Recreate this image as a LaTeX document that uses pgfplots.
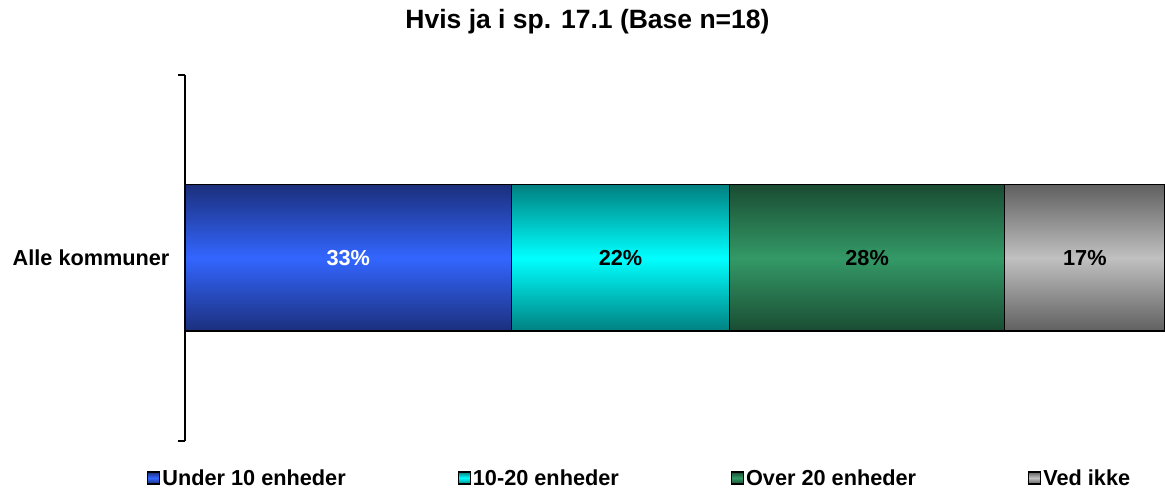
\documentclass[border=0pt]{standalone}
\usepackage{fontspec}
\setmainfont{Liberation Sans}
\usepackage{pgfplots}
\pgfplotsset{compat=1.18}
\definecolor{bluel}{HTML}{3366FF}\definecolor{blued}{HTML}{1B2F7C}
\definecolor{cyanl}{HTML}{00FFFF}\definecolor{cyand}{HTML}{008080}
\definecolor{greenl}{HTML}{339966}\definecolor{greend}{HTML}{1A4C33}
\definecolor{grayl}{HTML}{C0C0C0}\definecolor{grayd}{HTML}{606060}
\begin{document}
\begin{tikzpicture}
\path[use as bounding box] (0,0) rectangle (1165pt,492pt);
\node[font=\fontsize{26.5pt}{30pt}\selectfont\bfseries] at (587.5pt,470pt) {Hvis ja i sp. 17.1 (Base n=18)};
\begin{axis}[
  at={(185pt,51pt)}, anchor=south west,
  scale only axis, width=980pt, height=366pt,
  xbar stacked, bar width=0.4,
  xmin=0, xmax=100, ymin=-0.5, ymax=0.5,
  axis x line=none,
  axis y line*=left,
  axis line style={line width=1.4pt, -},
  ytick={0}, yticklabels={Alle kommuner},
  minor ytick={-0.5,0.5},
  major tick length=0pt, minor tick length=7pt,
  tick align=outside,
  minor tick style={line width=1.4pt, black},
  yticklabel style={font=\fontsize{21.7pt}{24pt}\selectfont\bfseries, xshift=-12pt},
  every axis plot/.append style={draw=black, line width=1.4pt},
  nodes near coords,
  point meta=explicit symbolic,
  every node near coord/.append style={anchor=center, font=\fontsize{21.7pt}{24pt}\selectfont\bfseries},
  legend columns=4,
  legend style={at={(0.464,-0.101)}, anchor=center, draw=none, fill=none,
    font=\fontsize{21.7pt}{24pt}\selectfont\bfseries,
    /tikz/every even column/.append style={column sep=110pt},
    inner sep=0pt},
  legend image code/.code={\draw[#1, draw=black, line width=1.2pt] (0pt,-6pt) rectangle (12pt,6pt);},
]
\addplot[top color=blued, bottom color=blued, middle color=bluel,
  every node near coord/.append style={text=white}]
  coordinates {(33.33,0) [33\%]};
\addplot[top color=cyand, bottom color=cyand, middle color=cyanl,
  every node near coord/.append style={text=black}]
  coordinates {(22.22,0) [22\%]};
\addplot[top color=greend, bottom color=greend, middle color=greenl,
  every node near coord/.append style={text=black}]
  coordinates {(28.1,0) [28\%]};
\addplot[top color=grayd, bottom color=grayd, middle color=grayl,
  every node near coord/.append style={text=black}]
  coordinates {(16.35,0) [17\%]};
\legend{Under 10 enheder,10-20 enheder,Over 20 enheder,Ved ikke}
\end{axis}
\end{tikzpicture}
\end{document}
